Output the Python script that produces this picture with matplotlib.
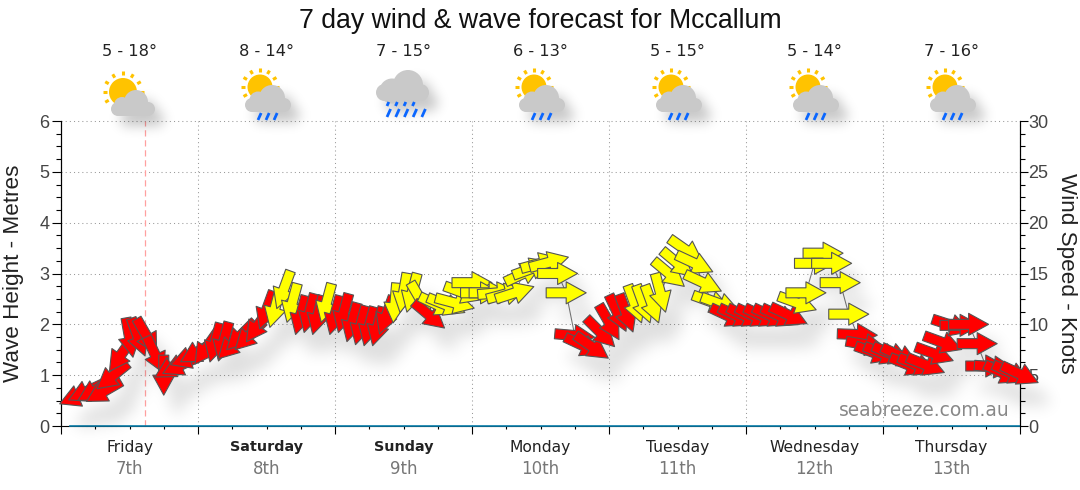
import numpy as np
import matplotlib
matplotlib.use("Agg")
import matplotlib.pyplot as plt
from matplotlib.collections import PathCollection, PatchCollection
from matplotlib.patches import Circle, Rectangle
from matplotlib.path import Path
from matplotlib.ticker import MultipleLocator
from matplotlib.transforms import Affine2D, IdentityTransform

# forecast steps are 1.5 hours apart (16 per day), first one is step 2
first_step = 2
wind_knots = [2.95, 3.4, 3.5, 3.4, 4.9, 7.0, 8.7, 8.75, 8.85, 7.0, 5.0, 5.8, 6.0, 6.7, 7.3,
              7.7, 8.2, 8.3, 8.0, 8.9, 8.9, 9.9, 11.4, 11.6, 13.4, 12.1, 10.9, 11.1, 10.9, 12.1,
              10.9, 11.1, 10.2, 9.9, 9.8, 9.8, 10.9, 12.1, 13.1, 13.1, 12.4, 10.9, 11.9, 11.9, 12.1,
              13.1, 14.1, 13.1, 13.1, 13.1, 13.0, 13.1, 15.0, 15.5, 16.0, 16.1, 15.0, 13.1, 8.9, 7.9,
              7.8, 9.2, 10.2, 11.1, 11.1, 12.0, 12.0, 12.0, 13.1, 15.0, 16.0, 17.3, 16.0, 14.1, 12.2,
              12.0, 10.8, 10.8, 10.8, 10.8, 10.8, 10.8, 10.8, 10.9, 12.1, 13.1, 16.0, 17.0, 16.0, 14.1,
              11.0, 9.0, 8.0, 7.2, 7.1, 7.1, 6.9, 6.0, 6.0, 6.0, 7.1, 8.2, 9.9, 9.9, 10.0,
              8.1, 5.9, 5.8, 5.2, 5.2, 5.1]
wind_heading = [247, 245, 240, 240, 231, 215, 170, 160, 150, 155, 180, 240, 245, 250, 240,
                215, 195, 195, 225, 225, 225, 215, 200, 195, 200, 195, 195, 195, 195, 195,
                195, 195, 195, 195, 195, 195, 200, 185, 190, 195, 150, 130, 115, 112, 105,
                110, 90, 90, 90, 85, 75, 72, 65, 70, 75, 75, 90, 90, 95, 115,
                125, 135, 150, 155, 160, 160, 160, 160, 165, 130, 130, 125, 115, 115, 110,
                110, 115, 115, 115, 115, 115, 115, 115, 115, 110, 90, 90, 90, 90, 90,
                90, 92, 100, 110, 112, 112, 115, 112, 112, 112, 110, 110, 108, 90, 90,
                90, 90, 95, 115, 115, 115]
wind_colour = list("rrrrrrrrrrrrrrrrrrrrrrryyyrrryrrrrrrryyyyryyyyyyyyyyyyyyyyrrrrrrryyyyyyyyyyy"
                   "rrrrrrrryyyyyyyrrrrrrrrrrrrrrrrrrrr")
wave_step = [1, 112]
wave_height = [0, 0]

day_names = ["Friday", "Saturday", "Sunday", "Monday", "Tuesday", "Wednesday", "Thursday"]
day_dates = ["7th", "8th", "9th", "10th", "11th", "12th", "13th"]
bold_days = ["Saturday", "Sunday"]
temps = ["5 - 18°", "8 - 14°", "7 - 15°", "6 - 13°", "5 - 15°", "5 - 14°", "7 - 16°"]
icons = ["sun", "sun_rain", "rain", "sun_rain", "sun_rain", "sun_rain", "sun_rain"]
now_day = 0.613

W, H = 1080, 490
colours = {"r": "#ff0000", "y": "#ffff00"}


class SoftShadow:
    # agg filter: blur the alpha of whatever was drawn and shift it
    def __init__(self, dx, dy, sigma, alpha):
        self.dx, self.dy, self.sigma, self.alpha = dx, dy, sigma, alpha

    def __call__(self, im, dpi):
        pad = int(self.sigma * 3) + 1
        a = np.pad(im[..., 3], pad)
        offs = np.arange(-pad, pad + 1)
        kern = np.exp(-offs ** 2 / (2.0 * self.sigma ** 2))
        kern /= kern.sum()
        for axis in (0, 1):
            a = sum(w * np.roll(a, s, axis=axis) for s, w in zip(offs, kern))
        out = np.zeros(a.shape + (4,))
        out[..., 3] = a * self.alpha
        return out, self.dx - pad, -self.dy - pad


fig = plt.figure(figsize=(W / 100, H / 100), dpi=100)
ax = fig.add_axes([61 / W, (H - 426) / H, 959 / W, 305 / H])
ax2 = ax.twinx()

ax.set_xlim(0, 7)
ax.set_ylim(0, 6)
ax2.set_ylim(0, 30)

ax.xaxis.set_major_locator(MultipleLocator(1))
ax.xaxis.set_minor_locator(MultipleLocator(0.25))
ax.yaxis.set_major_locator(MultipleLocator(1))
ax.yaxis.set_minor_locator(MultipleLocator(0.25))
ax2.yaxis.set_major_locator(MultipleLocator(5))
ax2.yaxis.set_minor_locator(MultipleLocator(1.25))
ax.tick_params(axis="x", which="major", length=6, width=0.8, labelbottom=False)
ax.tick_params(axis="x", which="minor", length=2.5, width=0.8)
ax.tick_params(axis="y", which="major", length=6.5, width=0.8, labelsize=13, labelcolor="#444444", pad=2)
ax.tick_params(axis="y", which="minor", length=3.5, width=0.8)
ax2.tick_params(axis="y", which="major", length=6, width=0.8, labelsize=13, labelcolor="#444444", pad=0)
ax2.tick_params(axis="y", which="minor", length=3.5, width=0.8)
for label in ax.get_yticklabels() + ax2.get_yticklabels():
    label.set_fontfamily("Liberation Sans")

ax.spines["top"].set_visible(False)
ax2.spines["top"].set_visible(False)
ax2.spines["bottom"].set_visible(False)

ax.grid(True, which="major", color="#999999", linestyle=(0, (1, 3)), linewidth=0.75, clip_on=False)
ax.set_axisbelow(True)

ax.set_ylabel("Wave Height - Metres", fontsize=16.2, family="Liberation Sans", color="#222222", va="center")
ax.yaxis.set_label_coords(-47.5 / 959, 0.5)
ax2.set_ylabel("Wind Speed - Knots", fontsize=16.2, family="Liberation Sans", color="#222222", rotation=270,
               va="center")
ax2.yaxis.set_label_coords(1 + 47 / 959, 0.5)

ax.axvline(now_day, color="#ffa0a0", linewidth=0.9, linestyle=(0, (5, 3)))
ax.plot(np.array(wave_step) / 16, wave_height, color="#0b7fab", linewidth=1.2, clip_on=False, zorder=4)

# wind arrows, drawn in pixel size around each forecast point
t = (first_step + np.arange(len(wind_knots))) / 16
ax2.plot(t, wind_knots, color="#777777", linewidth=0.75, zorder=2, clip_on=False)

arrow = np.array([[-5, -20], [5, -20], [5, 0], [11, 0], [0, 20], [-11, 0], [-5, 0], [-5, -20]], dtype=float)
paths = [Path(Affine2D().rotate_deg(-h).transform(arrow), closed=True) for h in wind_heading]
offsets = np.column_stack([t, wind_knots])

shadow = PathCollection(paths, offsets=offsets, offset_transform=ax2.transData, transform=IdentityTransform(),
                        facecolors="black", edgecolors="none", zorder=2.5, clip_on=False)
shadow.set_agg_filter(SoftShadow(7, 11, 5.5, 0.36))
ax2.add_collection(shadow, autolim=False)

arrows = PathCollection(paths, offsets=offsets, offset_transform=ax2.transData, transform=IdentityTransform(),
                        facecolors=[colours[c] for c in wind_colour], edgecolors="#555555", linewidths=0.8,
                        zorder=3, clip_on=False)
ax2.add_collection(arrows, autolim=False)

# day and temperature labels
for d in range(7):
    bold = day_names[d] in bold_days
    ax.text(d + 0.5, -21 / 305, day_names[d], transform=ax.get_xaxis_transform(), ha="center", va="center",
            fontsize=10.4 if bold else 11.2, fontweight="bold" if bold else "normal", color="#222222",
            family="DejaVu Sans")
    ax.text(d + 0.5, -43 / 305, day_dates[d], transform=ax.get_xaxis_transform(), ha="center", va="center",
            fontsize=12, color="#777777", family="DejaVu Sans")
    ax.text(d + 0.5, 375 / 305, temps[d], transform=ax.get_xaxis_transform(), ha="center", va="center",
            fontsize=11.7, color="#222222", family="DejaVu Sans")

fig.text(540 / W, 1 - 21 / H, "7 day wind & wave forecast for Mccallum", ha="center", va="center",
         fontsize=19.2, family="Liberation Sans", color="#111111")
fig.text(1010 / W, 1 - 411 / H, "seabreeze.com.au", ha="right", va="center", fontsize=13.4,
         family="DejaVu Sans", color="#888888", zorder=6)

# weather icons in a full figure overlay, y runs down in pixels
ov = fig.add_axes([0, 0, 1, 1], facecolor="none")
ov.set_xlim(0, W)
ov.set_ylim(H, 0)
ov.axis("off")


def cloud_parts(x0, x1, y0, y1, c1, r1, c2, r2):
    r = (y1 - y0) / 2
    return [Rectangle((x0 + r, y0), x1 - x0 - 2 * r, y1 - y0),
            Circle((x0 + r, y0 + r), r),
            Circle((x1 - r, y0 + r), r),
            Circle(c1, r1), Circle(c2, r2)]


def draw_sun(cx, cy, r):
    for ang in np.arange(0, 360, 30):
        ca, sa = np.cos(np.radians(ang)), np.sin(np.radians(ang))
        ov.plot([cx + ca * (r + 2.5), cx + ca * (r + 6.5)], [cy + sa * (r + 2.5), cy + sa * (r + 6.5)],
                color="#ffc300", linewidth=2.2, solid_capstyle="butt", zorder=2)
    ov.add_patch(Circle((cx, cy), r, color="#ffc300", linewidth=0, zorder=2))


def draw_dash(x, y0, y1):
    ov.plot([x + (y1 - y0) * 0.45, x], [y0, y1], color="#0a66ff", linewidth=2.0,
            solid_capstyle="butt", zorder=3)


for d, kind in enumerate(icons):
    dx = 137 * (d - 1)
    if kind == "sun":
        draw_sun(123, 92, 14)
        parts = cloud_parts(111, 155, 102, 116, (136, 102), 12, (122, 105), 8)
    elif kind == "sun_rain":
        draw_sun(260 + dx, 87, 12.5)
        parts = cloud_parts(245 + dx, 291 + dx, 98, 112, (272 + dx, 98), 13, (258 + dx, 100), 8.5)
        for k in range(3):
            draw_dash(258 + dx + 8 * k, 113, 120)
    else:
        parts = cloud_parts(376, 429, 84, 101, (408, 85), 15, (392, 91), 12.5)
        for k in range(4):
            draw_dash(387 + 8.5 * k, 102, 106)
        for k in range(5):
            draw_dash(387 + 8.7 * k, 109, 117)
    sh = PatchCollection(parts, facecolor="black", edgecolor="none", zorder=1)
    sh.set_agg_filter(SoftShadow(9, 10, 6, 0.22))
    ov.add_collection(sh, autolim=False)
    ov.add_collection(PatchCollection(parts, facecolor="#c9c9c9", edgecolor="none", zorder=2.5), autolim=False)

fig.savefig("out.png", dpi=100)
